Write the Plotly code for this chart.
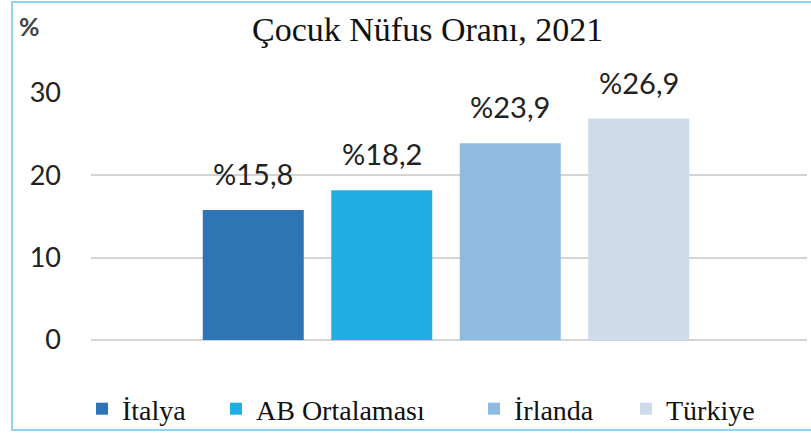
import plotly.graph_objects as go

categories = ["İtalya", "AB Ortalaması", "İrlanda", "Türkiye"]
values = [15.8, 18.2, 23.9, 26.9]
colors = ["#2E75B6", "#1FADE3", "#8FBBE0", "#CDDBEB"]
y_ticks = [0, 10, 20, 30]
legend_x_px = [82, 216, 474, 626]

W, H = 811, 433
L, R, T, B = 91, 4, 93, 93
pw, ph = W - L - R, H - T - B

def px(x):
    return (x - L) / pw

def py(y):
    return (H - B - y) / ph

legend_ids = ["legend", "legend2", "legend3", "legend4"]

fig = go.Figure()
for c, v, col, lid in zip(categories, values, colors, legend_ids):
    fig.add_trace(go.Bar(x=[c], y=[v], name=c, marker=dict(color=col, line=dict(width=0)),
                         showlegend=True, legend=lid))
    fig.add_annotation(x=c, y=v, text="%" + f"{v:.1f}".replace(".", ","), showarrow=False,
                       yanchor="bottom", yshift=17,
                       font=dict(family="Lato", size=29, color="#222222"))

# title and unit
fig.add_annotation(xref="paper", yref="paper", x=px(427), y=py(30), text="Çocuk Nüfus Oranı, 2021",
                   showarrow=False, xanchor="center", yanchor="middle",
                   font=dict(family="Liberation Serif", size=34, color="#111111"))
fig.add_annotation(xref="paper", yref="paper", x=px(17), y=py(26), text="%",
                   showarrow=False, xanchor="left", yanchor="middle",
                   font=dict(family="Lato", size=25, color="#444444", weight="bold"))

# border
fig.add_shape(type="rect", xref="paper", yref="paper", x0=px(12), x1=px(812), y0=py(430), y1=py(2),
              line=dict(color="#8ED6F0", width=2), fillcolor="rgba(0,0,0,0)", layer="below")

span_per_unit = 128.5
center_px = 446
x0 = 1.5 - (center_px - L) / span_per_unit
x1 = 1.5 + (W - R - center_px) / span_per_unit

legend_style = dict(orientation="h", yref="container", y=1 - 409 / H, xanchor="left",
                    yanchor="middle", font=dict(family="Liberation Serif", size=28, color="#111111"),
                    itemclick=False, bgcolor="rgba(0,0,0,0)")

layout_legends = {}
for lid, lx in zip(legend_ids, legend_x_px):
    layout_legends[lid] = dict(legend_style, xref="container", x=lx / W)

fig.update_layout(
    width=W, height=H,
    margin=dict(l=L, r=R, t=T, b=B),
    paper_bgcolor="white", plot_bgcolor="white",
    barmode="overlay", bargap=0.214,
    xaxis=dict(type="category", range=[x0, x1], showticklabels=False, showgrid=False,
               zeroline=False, showline=False, ticks=""),
    yaxis=dict(range=[0, 30], tickvals=y_ticks, showgrid=True, gridcolor="#D4D4D4", gridwidth=2,
               zeroline=True, zerolinecolor="#D4D4D4", zerolinewidth=2, showline=False, ticks="",
               ticklabelstandoff=29, tickfont=dict(family="Lato", size=27, color="#222222")),
    showlegend=True,
    **layout_legends,
)

fig.write_html("out.html", config={"displayModeBar": False},
               post_script="document.body.style.margin='0';")
